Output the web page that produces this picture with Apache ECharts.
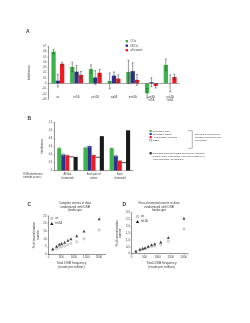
<!DOCTYPE html>
<html>
<head>
<meta charset="utf-8">
<script src="https://cdn.jsdelivr.net/npm/echarts@6.0.0/dist/echarts.min.js"></script>
<style>
html,body{margin:0;padding:0;background:#fff}
#chart{width:250px;height:323px}
</style>
</head>
<body>
<div id="chart"></div>
<script>
// panel A
var strains = ['wt', 'tel1Δ', 'pch2Δ', 'zip3Δ', 'msh4Δ', 'zip3Δ\ntel1Δ', 'pch2Δ\ntel1Δ'];
var coA = [0.60, 0.31, 0.27, 0.045, 0.215, -0.19, 0.35];
var coErrA = [0.045, 0.09, 0.08, 0.15, 0.22, 0.09, 0.11];
var ncoA = [0.05, 0.22, 0.11, 0.145, 0.23, 0.02, 0.0];
var ncoErrA = [0.12, 0.12, 0.13, 0.07, 0.16, 0.085, 0.16];
var allA = [0.37, 0.16, 0.20, 0.09, 0.065, -0.05, 0.12];
var allErrA = [0.03, 0.065, 0.065, 0.07, 0.10, 0.04, 0.05];
var ticksA = [-0.3, 0.7, 0.1];

// panel B
var scopes = ['All four\nchromatids', 'Each pair of\nsisters', 'Each\nchromatid'];
var detCO = [0.555, 0.57, 0.555];
var detCOErr = [0.015, 0.015, 0.015];
var detNCO = [0.40, 0.61, 0.37];
var detNCOErr = [0.03, 0.025, 0.03];
var detAll = [0.38, 0.385, 0.245];
var detAllErr = [0.01, 0.01, 0.01];
var dsbs = [0.34, 0.33, 0.195];
var simulated = [0.34, 0.855, 1.0];
var ticksB = [0, 1.2, 0.2];

// panels C and D
var dsbFreq = [170, 320, 430, 520, 640, 770, 890, 1120, 1410, 2010];
var cWt = [2.6, 3.5, 4.4, 4.8, 5.3, 6.1, 7.0, 8.1, 10.0, 15.8];
var cTel1 = [3.5, 5.1, 6.4, 6.9, 7.8, 9.1, 10.1, 12.0, 15.1, 23.2];
var dWt = [0.12, 0.25, 0.32, 0.37, 0.47, 0.54, 0.56, 0.66, 0.90, 1.80];
var dTel1 = [0.20, 0.32, 0.39, 0.43, 0.55, 0.66, 0.72, 0.86, 1.18, 2.59];

var GREEN = '#3bb54a', BLUE = '#2e3192', RED = '#ed1c24', BLACK = '#1a1a1a';
var FONT = 'Liberation Sans, Arial, sans-serif';
var TXT = '#3a3a3a';

var chart = echarts.init(document.getElementById('chart'), null, {renderer: 'canvas'});

function pairs(xs, ys) {
    return xs.map(function (x, i) { return [x, ys[i]]; });
}

// error bars drawn next to grouped bars
function errSeries(ax, vals, errs, slot, n, barW, color) {
    return {
        type: 'custom', xAxisIndex: ax, yAxisIndex: ax, silent: true, z: 5,
        encode: {x: 0, y: [1, 2]},
        data: vals.map(function (v, i) { return [i, v - errs[i], v + errs[i]]; }),
        renderItem: function (params, api) {
            var lo = api.coord([api.value(0), api.value(1)]);
            var hi = api.coord([api.value(0), api.value(2)]);
            var x = lo[0] + (slot - (n - 1) / 2) * barW;
            var c = barW * 0.22;
            var st = {stroke: color, lineWidth: 0.5};
            return {type: 'group', children: [
                {type: 'line', shape: {x1: x, y1: lo[1], x2: x, y2: hi[1]}, style: st},
                {type: 'line', shape: {x1: x - c, y1: hi[1], x2: x + c, y2: hi[1]}, style: st},
                {type: 'line', shape: {x1: x - c, y1: lo[1], x2: x + c, y2: lo[1]}, style: st}
            ]};
        }
    };
}

// top edge of the white DSB bars
function topLine(ax, vals, slot, n, barW) {
    return {
        type: 'custom', xAxisIndex: ax, yAxisIndex: ax, silent: true, z: 5,
        data: vals.map(function (v, i) { return [i, v]; }),
        renderItem: function (params, api) {
            var p = api.coord([api.value(0), api.value(1)]);
            var x = p[0] + (slot - (n - 1) / 2) * barW;
            return {type: 'line', shape: {x1: x - barW / 2, y1: p[1], x2: x + barW / 2, y2: p[1]},
                style: {stroke: BLACK, lineWidth: 0.8}};
        }
    };
}

function fmt1(v) { return Math.abs(v) < 1e-9 ? '0' : v.toFixed(1); }

var axisLine = {show: true, lineStyle: {color: '#333', width: 0.5}};
var axisTick = {show: true, length: 1, lineStyle: {color: '#333', width: 0.4}};
function lbl(size, extra) {
    var o = {fontSize: size, color: TXT, fontFamily: FONT};
    for (var k in extra) o[k] = extra[k];
    return o;
}

var bwA = 4.3, bwB = 4.1;

// legends as small graphic blocks
var graphic = [];
function legendRect(x, y, s, fill, stroke) {
    graphic.push({type: 'rect', shape: {x: x, y: y, width: s, height: s},
        style: {fill: fill, stroke: stroke || null, lineWidth: stroke ? 0.3 : 0}});
}
function legendText(x, y, text, size, lh) {
    graphic.push({type: 'text', x: x, y: y,
        style: {text: text, fontSize: size, fontFamily: FONT, fill: TXT, verticalAlign: 'top', lineHeight: lh || size * 1.15}});
}
[['COs', GREEN], ['NCOs', BLUE], ['all events', RED]].forEach(function (it, i) {
    legendRect(125.6, 40 + i * 4.5, 2.4, it[1]);
    legendText(130.5, 39.8 + i * 4.5, it[0], 2.8);
});
[['Detectable COs', GREEN], ['Detectable NCOs', BLUE], ['All detectable products', RED], ['DSBs', '#fff']].forEach(function (it, i) {
    legendRect(149.6, 130 + i * 3, 2.1, it[1], i === 3 ? BLACK : null);
    legendText(152.8, 129.8 + i * 3, it[0], 2.4);
});
legendRect(149.6, 152.2, 2.1, BLACK);
legendText(152.8, 151.9, 'Simulated strength of DSB interference along the\nbundle of four chromatids, each pair of sisters, or\neach chromatid, as indicated', 2.4, 2.8);
graphic.push({type: 'polyline', shape: {points: [[188, 130.7], [192.3, 130.7], [192.3, 148.3], [188, 148.3]]},
    style: {stroke: '#444', lineWidth: 0.4, fill: null}});
legendText(195, 133, 'Strength of interference\nmeasured across all four\nchromatids', 2.4, 2.8);
legendText(23.3, 172.8, 'DSB interference\nextends across:', 2.6, 3.3);

function scatterLegend(x, y) {
    graphic.push({type: 'circle', shape: {cx: x, cy: y, r: 1.3}, style: {fill: '#ddd', stroke: '#888', lineWidth: 0.4}});
    legendText(x + 3.5, y - 1.6, 'wt', 3);
    graphic.push({type: 'polygon', shape: {points: [[x, y + 3.6], [x - 1.6, y + 6.4], [x + 1.6, y + 6.4]]}, style: {fill: BLACK}});
    legendText(x + 3.5, y + 3.4, 'tel1Δ', 3);
}
scatterLegend(51.8, 218.5);
scatterLegend(137.5, 216.5);

var option = {
    backgroundColor: '#fff',
    animation: false,
    textStyle: {fontFamily: FONT},
    title: [
        {text: 'A', left: 26, top: 29, padding: 0, textStyle: {fontSize: 5, fontWeight: 'bold', color: TXT}},
        {text: 'B', left: 27.5, top: 116, padding: 0, textStyle: {fontSize: 5, fontWeight: 'bold', color: TXT}},
        {text: 'C', left: 27.5, top: 202, padding: 0, textStyle: {fontSize: 5, fontWeight: 'bold', color: TXT}},
        {text: 'D', left: 122.5, top: 202, padding: 0, textStyle: {fontSize: 5, fontWeight: 'bold', color: TXT}},
        {text: 'Complex events in data\nrandomized with DSB\nlandscape', left: 75, top: 201.8, padding: 0, textAlign: 'center',
            textStyle: {fontSize: 3.1, lineHeight: 3.4, fontWeight: 'normal', color: TXT}},
        {text: 'Four-chromatid events in data\nrandomized with DSB\nlandscape', left: 159, top: 201.8, padding: 0, textAlign: 'center',
            textStyle: {fontSize: 3.1, lineHeight: 3.4, fontWeight: 'normal', color: TXT}}
    ],
    graphic: graphic,
    grid: [
        {left: 48.5, top: 46.4, width: 131, height: 52.7, outerBoundsMode: 'none'},
        {left: 54.3, top: 122.3, width: 78.7, height: 48.2, outerBoundsMode: 'none'},
        {left: 48.5, top: 216, width: 56.7, height: 38, outerBoundsMode: 'none'},
        {left: 131.5, top: 212.7, width: 56.1, height: 41, outerBoundsMode: 'none'}
    ],
    xAxis: [
        {type: 'category', gridIndex: 0, data: strains,
            axisLine: {show: false, onZero: false}, axisTick: {show: false},
            axisLabel: lbl(2.6, {margin: -3.6, interval: 0, lineHeight: 3.4})},
        {type: 'category', gridIndex: 1, data: scopes,
            axisLine: axisLine, axisTick: {show: false},
            axisLabel: lbl(2.6, {margin: 2.4, interval: 0, lineHeight: 3.4})},
        {type: 'value', gridIndex: 2, min: 0, max: 2250, interval: 500, splitLine: {show: false},
            axisLine: axisLine, axisTick: axisTick,
            axisLabel: lbl(2.9, {margin: 2.2, formatter: function (v) { return v % 500 === 0 ? String(v) : ''; }}),
            name: 'Total DSB frequency\n(reads per million)', nameLocation: 'middle', nameGap: 7.5,
            nameTextStyle: {fontSize: 3.3, lineHeight: 3.9, color: TXT, padding: [0, 11, 0, 0]}},
        {type: 'value', gridIndex: 3, min: 0, max: 2150, interval: 500, splitLine: {show: false},
            axisLine: axisLine, axisTick: axisTick,
            axisLabel: lbl(2.9, {margin: 2.2, formatter: function (v) { return v % 500 === 0 ? String(v) : ''; }}),
            name: 'Total DSB frequency\n(reads per million)', nameLocation: 'middle', nameGap: 7.5,
            nameTextStyle: {fontSize: 3.3, lineHeight: 3.9, color: TXT, padding: [0, 0, 0, 4]}}
    ],
    yAxis: [
        {type: 'value', gridIndex: 0, min: ticksA[0], max: ticksA[1], interval: ticksA[2], splitLine: {show: false},
            axisLine: axisLine, axisTick: axisTick,
            axisLabel: lbl(2.6, {margin: 2, formatter: fmt1}),
            name: 'Interference', nameLocation: 'middle', nameGap: 13, nameTextStyle: {fontSize: 2.8, color: TXT}},
        {type: 'value', gridIndex: 1, min: ticksB[0], max: ticksB[1], interval: ticksB[2], splitLine: {show: false},
            axisLine: axisLine, axisTick: axisTick,
            axisLabel: lbl(2.6, {margin: 2, formatter: fmt1}),
            name: 'Interference', nameLocation: 'middle', nameGap: 11, nameTextStyle: {fontSize: 2.8, color: TXT}},
        {type: 'value', gridIndex: 2, min: 0, max: 25, interval: 5, splitLine: {show: false},
            axisLine: axisLine, axisTick: axisTick,
            axisLabel: lbl(2.9, {margin: 2}),
            name: '% of recombination\nevents', nameLocation: 'middle', nameGap: 7.5,
            nameTextStyle: {fontSize: 3.1, lineHeight: 3.4, color: TXT}},
        {type: 'value', gridIndex: 3, min: 0, max: 3, interval: 0.5, splitLine: {show: false},
            axisLine: axisLine, axisTick: axisTick,
            axisLabel: lbl(2.9, {margin: 1.5, formatter: fmt1}),
            name: '% of recombination\nevents', nameLocation: 'middle', nameGap: 5.5,
            nameTextStyle: {fontSize: 3.1, lineHeight: 3.4, color: TXT}}
    ],
    series: [
        {name: 'COs', type: 'bar', xAxisIndex: 0, yAxisIndex: 0, data: coA, barWidth: bwA, barGap: '0%',
            itemStyle: {color: GREEN},
            markLine: {silent: true, symbol: 'none', label: {show: false},
                lineStyle: {color: '#555', width: 0.5, type: 'solid'}, data: [{yAxis: 0}]}},
        {name: 'NCOs', type: 'bar', xAxisIndex: 0, yAxisIndex: 0, data: ncoA, barWidth: bwA, barGap: '0%',
            itemStyle: {color: BLUE}},
        {name: 'all events', type: 'bar', xAxisIndex: 0, yAxisIndex: 0, data: allA, barWidth: bwA, barGap: '0%',
            itemStyle: {color: RED}},
        errSeries(0, coA, coErrA, 0, 3, bwA, '#333'),
        errSeries(0, ncoA, ncoErrA, 1, 3, bwA, '#333'),
        errSeries(0, allA, allErrA, 2, 3, bwA, '#333'),

        {name: 'Detectable COs', type: 'bar', xAxisIndex: 1, yAxisIndex: 1, data: detCO, barWidth: bwB, barGap: '0%',
            itemStyle: {color: GREEN}},
        {name: 'Detectable NCOs', type: 'bar', xAxisIndex: 1, yAxisIndex: 1, data: detNCO, barWidth: bwB, barGap: '0%',
            itemStyle: {color: BLUE}},
        {name: 'All detectable products', type: 'bar', xAxisIndex: 1, yAxisIndex: 1, data: detAll, barWidth: bwB, barGap: '0%',
            itemStyle: {color: RED}},
        {name: 'DSBs', type: 'bar', xAxisIndex: 1, yAxisIndex: 1, data: dsbs, barWidth: bwB, barGap: '0%',
            itemStyle: {color: '#fff', borderColor: '#ddd', borderWidth: 0.3}},
        {name: 'Simulated', type: 'bar', xAxisIndex: 1, yAxisIndex: 1, data: simulated, barWidth: bwB, barGap: '0%',
            itemStyle: {color: BLACK}},
        errSeries(1, detCO, detCOErr, 0, 5, bwB, '#888'),
        errSeries(1, detNCO, detNCOErr, 1, 5, bwB, '#aaa'),
        errSeries(1, detAll, detAllErr, 2, 5, bwB, '#888'),
        topLine(1, dsbs, 3, 5, bwB),

        {name: 'wt', type: 'scatter', xAxisIndex: 2, yAxisIndex: 2, data: pairs(dsbFreq, cWt),
            symbol: 'circle', symbolSize: 2.4, itemStyle: {color: '#ddd', borderColor: '#888', borderWidth: 0.4}},
        {name: 'tel1Δ', type: 'scatter', xAxisIndex: 2, yAxisIndex: 2, data: pairs(dsbFreq, cTel1),
            symbol: 'triangle', symbolSize: 3, itemStyle: {color: BLACK}},
        {name: 'wt', type: 'scatter', xAxisIndex: 3, yAxisIndex: 3, data: pairs(dsbFreq, dWt),
            symbol: 'circle', symbolSize: 2.4, itemStyle: {color: '#ddd', borderColor: '#888', borderWidth: 0.4}},
        {name: 'tel1Δ', type: 'scatter', xAxisIndex: 3, yAxisIndex: 3, data: pairs(dsbFreq, dTel1),
            symbol: 'triangle', symbolSize: 3, itemStyle: {color: BLACK}}
    ]
};

chart.setOption(option);
</script>
</body>
</html>
